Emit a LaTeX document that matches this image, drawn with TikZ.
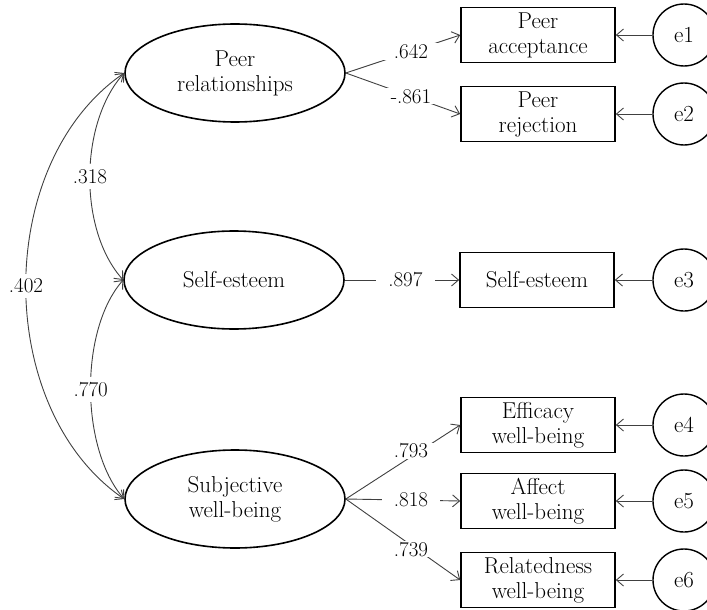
\documentclass[tikz,border=0pt]{standalone}
\usetikzlibrary{shapes.geometric, arrows.meta}

\tikzset{
    latent/.style={ellipse, draw, line width=1.6pt, minimum width=220pt,
        minimum height=98pt, inner sep=0pt, align=center},
    observed/.style={rectangle, draw, line width=1.6pt, minimum width=154pt,
        minimum height=55pt, inner sep=0pt, align=center},
    errvar/.style={circle, draw, line width=1.4pt, minimum size=62pt, inner sep=0pt},
    loading/.style={draw=black!75, line width=0.9pt, -{Straight Barb[length=7pt,width=12pt]}},
    covar/.style={draw=black!75, line width=0.9pt,
        {Straight Barb[length=7pt,width=12pt]}-{Straight Barb[length=7pt,width=12pt]}},
    weight/.style={fill=white, inner xsep=12pt, inner ysep=1pt, font=\fontsize{21}{24}\selectfont},
}

\begin{document}
\begin{tikzpicture}[
    x=1pt, y=-1pt,
    every node/.style={font=\fontsize{23}{25}\selectfont},
    ]
    \useasboundingbox (0,0) rectangle (707,610);
    % latent variables
    \node [latent] (peer) at (235,73) {Peer\\relationships};
    \node [latent] (selfl) at (234,280) {Self-esteem};
    \node [latent] (swb) at (235,499) {Subjective\\well-being};
    % indicators
    \node [observed] (acc) at (538,35) {Peer\\acceptance};
    \node [observed] (rej) at (538,114) {Peer\\rejection};
    \node [observed] (selfo) at (537,280) {Self-esteem};
    \node [observed] (eff) at (538,425) {Efficacy\\well-being};
    \node [observed] (aff) at (538,501) {Affect\\well-being};
    \node [observed] (rel) at (538,580) {Relatedness\\well-being};
    % error terms
    \node [errvar] (e1) at (684,35) {e1};
    \node [errvar] (e2) at (684,114) {e2};
    \node [errvar] (e3) at (684,280) {e3};
    \node [errvar] (e4) at (684,425) {e4};
    \node [errvar] (e5) at (684,501) {e5};
    \node [errvar] (e6) at (684,580) {e6};

    % loadings
    \draw [loading] (peer.east) -- node [weight, pos=.57] {.642} (acc.west);
    \draw [loading] (peer.east) -- node [weight, pos=.57] {-.861} (rej.west);
    \draw [loading] (selfl.east) -- node [weight, pos=.53] {.897} (selfo.west);
    \draw [loading] (swb.east) -- node [weight, pos=.57, yshift=6pt] {.793} (eff.west);
    \draw [loading] (swb.east) -- node [weight, pos=.57] {.818} (aff.west);
    \draw [loading] (swb.east) -- node [weight, pos=.57, yshift=-4pt] {.739} (rel.west);

    % residuals
    \foreach \e/\b in {e1/acc, e2/rej, e3/selfo, e4/eff, e5/aff, e6/rel}
        \draw [loading] (\e) -- (\b);

    % correlations
    \draw [covar] (peer.west) .. controls +(-45,50) and +(-45,-50) .. node [weight, inner xsep=1pt, inner ysep=5pt] {.318} (selfl.west);
    \draw [covar] (selfl.west) .. controls +(-44,50) and +(-44,-50) .. node [weight, inner xsep=1pt, inner ysep=5pt] {.770} (swb.west);
    \draw [covar] (peer.west) .. controls +(-131,90) and +(-131,-90) .. node [weight, inner xsep=1pt, inner ysep=5pt] {.402} (swb.west);
\end{tikzpicture}
\end{document}
